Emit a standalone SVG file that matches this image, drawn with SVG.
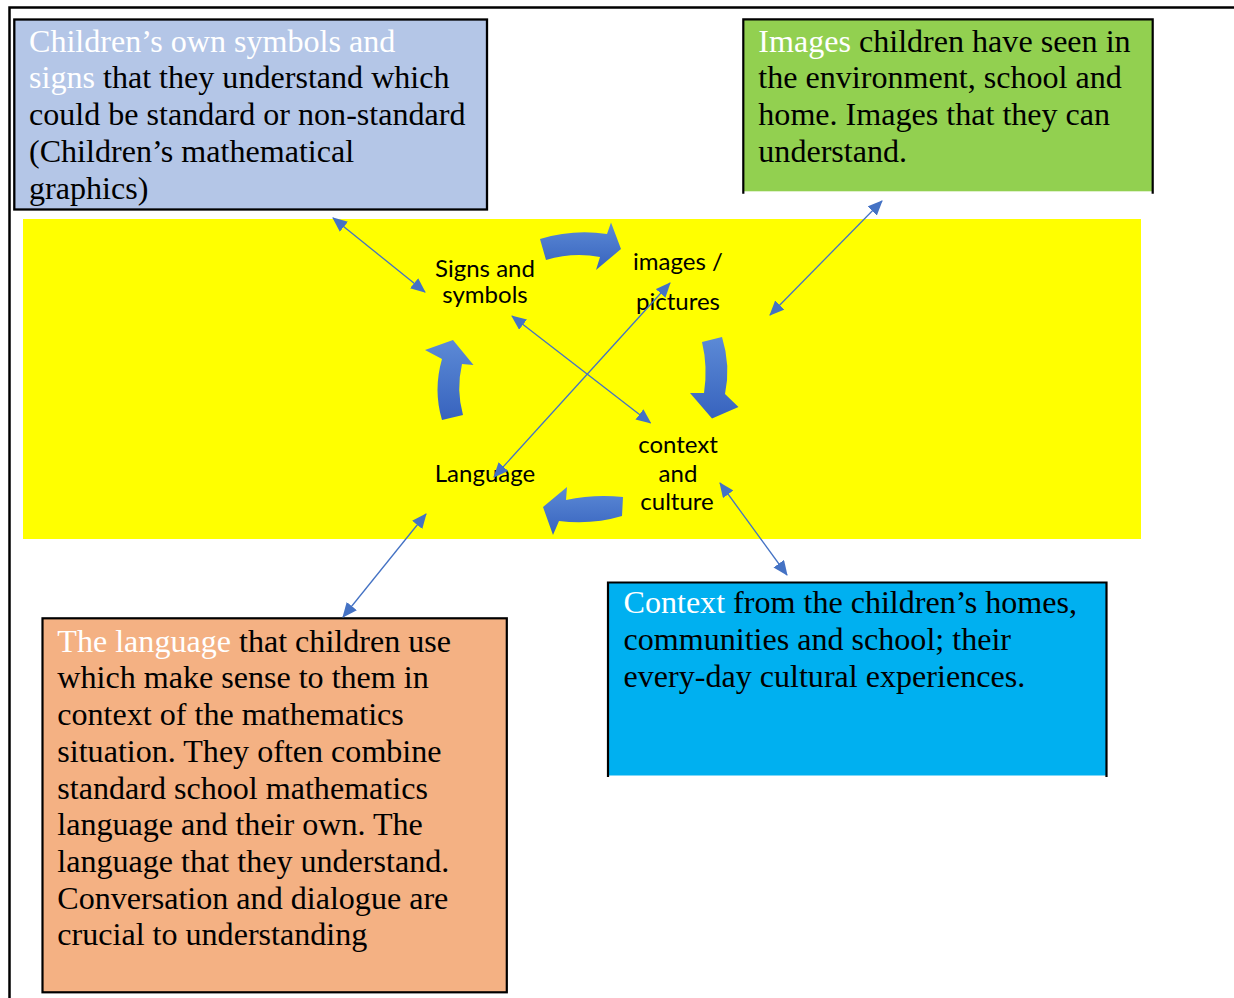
<svg xmlns="http://www.w3.org/2000/svg" width="1234" height="998" viewBox="0 0 1234 998">
<style>
.body{font-family:"Liberation Serif","Times New Roman",serif;font-size:32.1px;fill:#000}
.hl{fill:#ffffff}
.lbl{font-family:Lato,"Open Sans","Liberation Sans",sans-serif;font-size:24px;fill:#000;text-anchor:middle}
.conn{stroke:#4472C4;stroke-width:1.3;fill:none;marker-start:url(#ah);marker-end:url(#ah)}
.cyc{fill:url(#cg)}
</style>
<defs>
<marker id="ah" viewBox="0 0 15 13" refX="14" refY="6.5" markerWidth="15" markerHeight="13" markerUnits="userSpaceOnUse" orient="auto-start-reverse">
<path d="M0,0 L15,6.5 L0,13 z" fill="#4472C4"/>
</marker>
<linearGradient id="cg" x1="0" y1="0" x2="0" y2="1">
<stop offset="0" stop-color="#5C8AD6"/>
<stop offset="1" stop-color="#3763BE"/>
</linearGradient>
</defs>

<rect x="0" y="0" width="1234" height="998" fill="#ffffff"/>
<g id="frame" stroke="#000" stroke-width="2.5" fill="none">
<path d="M9.5,998 V7.5 H1234"/>
</g>

<rect id="center-panel" x="23" y="219" width="1118" height="320" fill="#FFFF00"/>

<g id="box-signs">
<rect x="14.3" y="19.5" width="472.7" height="190" fill="#B4C6E7" stroke="#000" stroke-width="2.3"/>
<text class="body" x="29" y="51.7"><tspan class="hl">Children’s own symbols and</tspan></text>
<text class="body" x="29" y="88.4"><tspan class="hl">signs</tspan> that they understand which</text>
<text class="body" x="29" y="125.1">could be standard or non-standard</text>
<text class="body" x="29" y="161.8">(Children’s mathematical</text>
<text class="body" x="29" y="198.5">graphics)</text>
</g>

<g id="box-images">
<rect x="743.3" y="19.3" width="409.4" height="172" fill="#92D050"/>
<path d="M743.3,193.7 V19.3 H1152.7 V193.7" fill="none" stroke="#000" stroke-width="2.2"/>
<text class="body" x="758.3" y="51.7"><tspan class="hl">Images</tspan> children have seen in</text>
<text class="body" x="758.3" y="88.4">the environment, school and</text>
<text class="body" x="758.3" y="125.1">home. Images that they can</text>
<text class="body" x="758.3" y="161.8">understand.</text>
</g>

<g id="box-context">
<rect x="608" y="582.5" width="498.5" height="193" fill="#00B0F0"/>
<path d="M608,777 V582.5 H1106.5 V777" fill="none" stroke="#000" stroke-width="2.2"/>
<text class="body" x="623.5" y="613.3"><tspan class="hl">Context</tspan> from the children’s homes,</text>
<text class="body" x="623.5" y="650">communities and school; their</text>
<text class="body" x="623.5" y="686.7">every-day cultural experiences.</text>
</g>

<g id="box-language">
<rect x="42.5" y="618.3" width="464.3" height="374" fill="#F4B183" stroke="#000" stroke-width="2.2"/>
<text class="body" x="57.3" y="651.7"><tspan class="hl">The language</tspan> that children use</text>
<text class="body" x="57.3" y="688.4">which make sense to them in</text>
<text class="body" x="57.3" y="725.1">context of the mathematics</text>
<text class="body" x="57.3" y="761.8">situation. They often combine</text>
<text class="body" x="57.3" y="798.5">standard school mathematics</text>
<text class="body" x="57.3" y="835.2">language and their own. The</text>
<text class="body" x="57.3" y="871.9">language that they understand.</text>
<text class="body" x="57.3" y="908.6">Conversation and dialogue are</text>
<text class="body" x="57.3" y="945.3">crucial to understanding</text>
</g>

<g id="cycle-arrows">
<path class="cyc" d="M540,239 Q573,229 607,234 L611,222.5 L621,249 L596,270 L600,257 Q573,252 546,260 Z"/>
<path class="cyc" d="M702,342 L722,337 Q731,366 725,394 L738.5,407 L712,418.5 L690,393 L704,393 Q708,367 702,342 Z"/>
<path class="cyc" d="M623,497 Q594,494 566,500 L567,487 L543,507 L553,535 L559,521 Q592,525 622,516 Z"/>
<path class="cyc" d="M442,420 Q433,390 442,359 L425,350 L453,340 L473.5,365 L462,364 Q456,390 463,415 Z"/>
</g>

<g id="node-signs"><text class="lbl" x="485" y="276.7">Signs and</text><text class="lbl" x="485" y="303.3">symbols</text></g>
<g id="node-images"><text class="lbl" x="678" y="270">images /</text><text class="lbl" x="678" y="310">pictures</text></g>
<g id="node-context"><text class="lbl" x="678" y="453.3">context</text><text class="lbl" x="678" y="481.7">and</text><text class="lbl" x="677" y="510">culture</text></g>
<g id="node-language"><text class="lbl" x="485" y="481.7">Language</text></g>

<g id="connectors">
<line class="conn" x1="333" y1="218" x2="425" y2="292"/>
<line class="conn" x1="882" y1="201" x2="770" y2="315"/>
<line class="conn" x1="512" y1="316" x2="650.5" y2="423"/>
<line class="conn" x1="670" y1="283" x2="494" y2="477"/>
<line class="conn" x1="426" y1="514" x2="343" y2="617"/>
<line class="conn" x1="720" y1="483" x2="787" y2="575"/>
</g>
</svg>
